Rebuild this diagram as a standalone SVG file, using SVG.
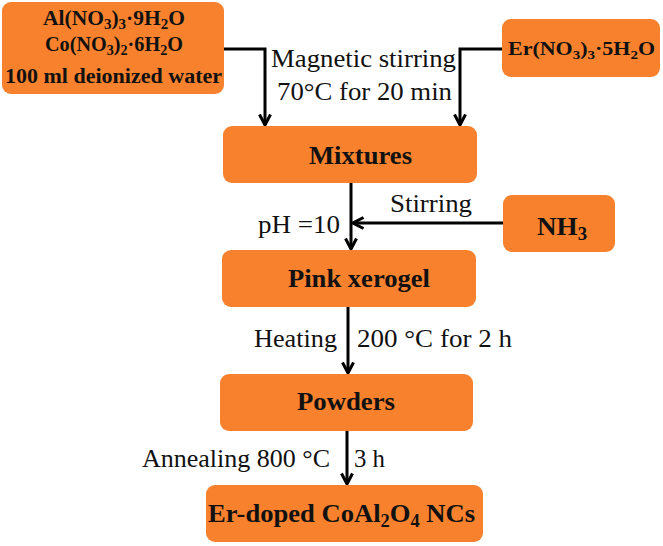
<svg xmlns="http://www.w3.org/2000/svg" width="663" height="546" viewBox="0 0 663 546">
<style>
.box{fill:#F7812D;}
.b{font-family:'Liberation Serif','DejaVu Serif','Noto Serif',serif;font-weight:bold;fill:#111;}
.r{font-family:'Liberation Serif','DejaVu Serif','Noto Serif',serif;fill:#111;font-size:25px;}
.c{fill:none;stroke:#000;stroke-width:3;}
</style>
<defs>
<marker id="ah" viewBox="0 0 14 14" refX="12.5" refY="7" markerWidth="14" markerHeight="14" markerUnits="userSpaceOnUse" orient="auto">
<path d="M2,1.5 L12.5,7 L2,12.5" fill="none" stroke="#000" stroke-width="3"/>
</marker>
</defs>
<rect width="663" height="546" fill="#fff"/>
<g id="connectors">
<path class="c" d="M224,49 H265 V125" marker-end="url(#ah)"/>
<path class="c" d="M502,49 H460 V125" marker-end="url(#ah)"/>
<path class="c" d="M351,183 V249" marker-end="url(#ah)"/>
<path class="c" d="M503,223 H353" marker-end="url(#ah)"/>
<path class="c" d="M348,307 V373" marker-end="url(#ah)"/>
<path class="c" d="M347,431 V484" marker-end="url(#ah)"/>
<text class="r" x="271" y="67" textLength="185" lengthAdjust="spacingAndGlyphs">Magnetic stirring</text>
<text class="r" x="277" y="100" textLength="175" lengthAdjust="spacingAndGlyphs">70°C for 20 min</text>
<text class="r" x="390" y="212" textLength="82" lengthAdjust="spacingAndGlyphs">Stirring</text>
<text class="r" x="258" y="233" textLength="82" lengthAdjust="spacingAndGlyphs">pH =10</text>
<text class="r" x="254" y="347" textLength="83" lengthAdjust="spacingAndGlyphs">Heating</text>
<text class="r" x="357" y="347" textLength="155" lengthAdjust="spacingAndGlyphs">200 °C for 2 h</text>
<text class="r" x="142" y="467" textLength="188" lengthAdjust="spacingAndGlyphs">Annealing 800 °C</text>
<text class="r" x="354" y="467" textLength="31" lengthAdjust="spacingAndGlyphs">3 h</text>
</g>
<g id="reagents">
<rect class="box" x="2" y="2" width="222" height="92" rx="9"/>
<text class="b" x="43" y="25" font-size="20" textLength="142" lengthAdjust="spacingAndGlyphs">Al(NO<tspan font-size="14" dy="4">3</tspan><tspan dy="-4">)</tspan><tspan font-size="14" dy="4">3</tspan><tspan dy="-4">·9H</tspan><tspan font-size="14" dy="4">2</tspan><tspan dy="-4">O</tspan></text>
<text class="b" x="45" y="51" font-size="20" textLength="138" lengthAdjust="spacingAndGlyphs">Co(NO<tspan font-size="14" dy="4">3</tspan><tspan dy="-4">)</tspan><tspan font-size="14" dy="4">2</tspan><tspan dy="-4">·6H</tspan><tspan font-size="14" dy="4">2</tspan><tspan dy="-4">O</tspan></text>
<text class="b" x="5" y="83" font-size="20" textLength="217" lengthAdjust="spacingAndGlyphs">100 ml deionized  water</text>
</g>
<g id="er">
<rect class="box" x="502" y="19" width="158" height="58" rx="9"/>
<text class="b" x="508" y="55" font-size="19" textLength="147" lengthAdjust="spacingAndGlyphs">Er(NO<tspan font-size="13" dy="4">3</tspan><tspan dy="-4">)</tspan><tspan font-size="13" dy="4">3</tspan><tspan dy="-4">·5H</tspan><tspan font-size="13" dy="4">2</tspan><tspan dy="-4">O</tspan></text>
</g>
<g id="mixtures">
<rect class="box" x="223" y="126" width="254" height="57" rx="9"/>
<text class="b" x="309" y="164" font-size="26" textLength="103" lengthAdjust="spacingAndGlyphs">Mixtures</text>
</g>
<g id="nh3">
<rect class="box" x="503" y="195" width="112" height="57" rx="9"/>
<text class="b" x="537" y="235" font-size="26" textLength="50" lengthAdjust="spacingAndGlyphs">NH<tspan font-size="18" dy="5">3</tspan></text>
</g>
<g id="xerogel">
<rect class="box" x="222" y="250" width="254" height="57" rx="9"/>
<text class="b" x="288" y="287" font-size="26" textLength="142" lengthAdjust="spacingAndGlyphs">Pink xerogel</text>
</g>
<g id="powders">
<rect class="box" x="220" y="374" width="253" height="57" rx="9"/>
<text class="b" x="297" y="410" font-size="26" textLength="98" lengthAdjust="spacingAndGlyphs">Powders</text>
</g>
<g id="product">
<rect class="box" x="206" y="485" width="277" height="57" rx="9"/>
<text class="b" x="208" y="522" font-size="26" textLength="267" lengthAdjust="spacingAndGlyphs">Er-doped CoAl<tspan font-size="18" dy="5">2</tspan><tspan dy="-5">O</tspan><tspan font-size="18" dy="5">4</tspan><tspan dy="-5"> NCs</tspan></text>
</g>
</svg>
